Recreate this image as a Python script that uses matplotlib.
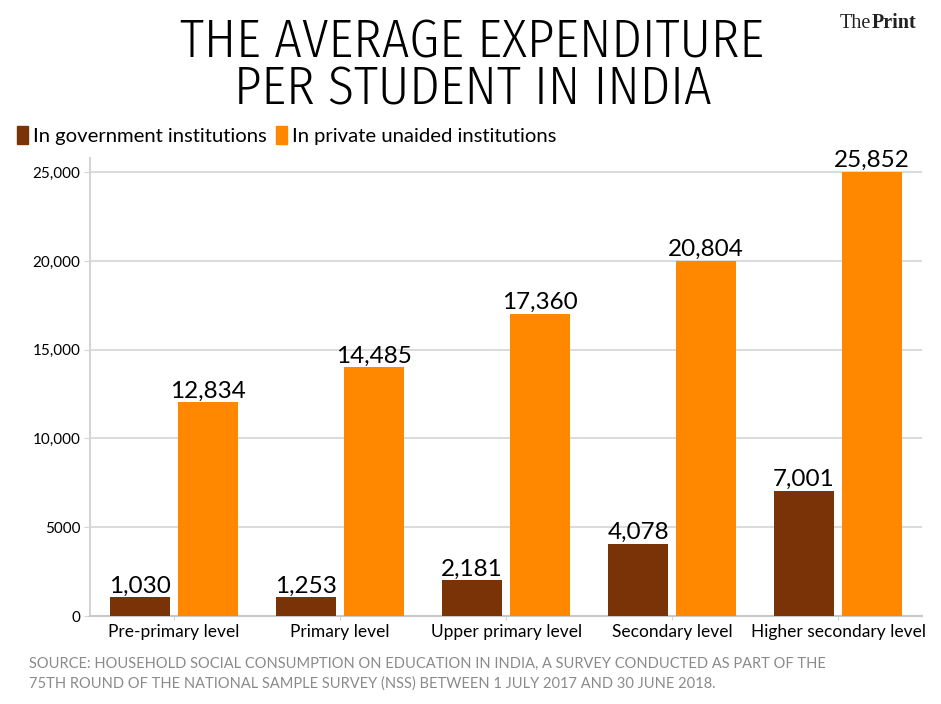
import matplotlib
matplotlib.use("Agg")
import matplotlib.pyplot as plt
from matplotlib.patches import Patch

# data (bar heights as drawn, labels as printed)
levels = ["Pre-primary level", "Primary level", "Upper primary level",
          "Secondary level", "Higher secondary level"]
govt_heights = [1050, 1050, 2000, 4070, 7030]
private_heights = [12030, 14000, 17000, 20000, 25000]
govt_labels = ["1,030", "1,253", "2,181", "4,078", "7,001"]
private_labels = ["12,834", "14,485", "17,360", "20,804", "25,852"]
ytick_values = [0, 5000, 10000, 15000, 20000, 25000]
ytick_labels = ["0", "5000", "10,000", "15,000", "20,000", "25,000"]

BROWN = "#7a3306"
ORANGE = "#ff8800"
GRID = "#d4d4d4"
FONT = ["Lato", "DejaVu Sans"]
TITLE_FONT = ["Fira Sans Condensed", "DejaVu Sans"]
SERIF = ["Liberation Serif", "DejaVu Serif"]

plt.rcParams['font.family'] = FONT

fig = plt.figure(figsize=(9.41, 7.04), dpi=100)
ax = fig.add_axes([0.0956, 0.125, 0.8844, 0.6506])

x = list(range(len(levels)))
w = 0.36
off = 0.205
ax.bar([i - off for i in x], govt_heights, width=w, color=BROWN, zorder=3)
ax.bar([i + off for i in x], private_heights, width=w, color=ORANGE, zorder=3)

for i in x:
    ax.text(i - off, govt_heights[i] + 50, govt_labels[i], ha='center', va='bottom',
            fontsize=17.5, color='black', zorder=4)
    ax.text(i + off, private_heights[i] + 50, private_labels[i], ha='center', va='bottom',
            fontsize=17.5, color='black', zorder=4)

ax.set_xlim(-0.506, 4.506)
ax.set_ylim(0, 25800)
ax.set_yticks(ytick_values)
ax.set_yticklabels(ytick_labels, fontsize=11)
ax.set_xticks(x)
ax.set_xticklabels(levels, fontsize=12.5)
ax.yaxis.grid(True, color=GRID, linewidth=1.2, zorder=0)
ax.set_axisbelow(True)
for s in ['top', 'right']:
    ax.spines[s].set_visible(False)
ax.spines['left'].set_color(GRID)
ax.spines['left'].set_linewidth(1.5)
ax.spines['bottom'].set_color("#c8c8c8")
ax.spines['bottom'].set_linewidth(1.5)
ax.tick_params(axis='y', length=4, color=GRID, pad=3, labelcolor='black')
ax.tick_params(axis='x', length=3, color=GRID, pad=3, labelcolor='black')

# title
fig.text(0.502, 0.919, "THE AVERAGE EXPENDITURE", ha='center', va='baseline',
         fontsize=38.5, family=TITLE_FONT, fontweight=300, color='black')
fig.text(0.502, 0.851, "PER STUDENT IN INDIA", ha='center', va='baseline',
         fontsize=38.5, family=TITLE_FONT, fontweight=300, color='black')

# logo
fig.text(0.926, 0.967, "The", ha='right', va='center', fontsize=14.5,
         family=SERIF, color='#222222')
fig.text(0.926, 0.967, "Print", ha='left', va='center', fontsize=14.5, fontweight='bold',
         family=SERIF, color='#222222')

# legend
handles = [Patch(color=BROWN, label="In government institutions"),
           Patch(color=ORANGE, label="In private unaided institutions")]
fig.legend(handles=handles, loc='center left', bbox_to_anchor=(0.018, 0.808), ncol=2,
           frameon=False, fontsize=14.6, handlelength=0.55, handleheight=1.05,
           handletextpad=0.25, columnspacing=0.45, borderaxespad=0, borderpad=0)

# source note
fig.text(0.031, 0.0433, "SOURCE: HOUSEHOLD SOCIAL CONSUMPTION ON EDUCATION IN INDIA, A SURVEY CONDUCTED AS PART OF THE\n"
         "75TH ROUND OF THE NATIONAL SAMPLE SURVEY (NSS) BETWEEN 1 JULY 2017 AND 30 JUNE 2018.",
         ha='left', va='center', fontsize=10.5, color='#8a8a8a', linespacing=1.48)

fig.savefig("out.png", dpi=100)
